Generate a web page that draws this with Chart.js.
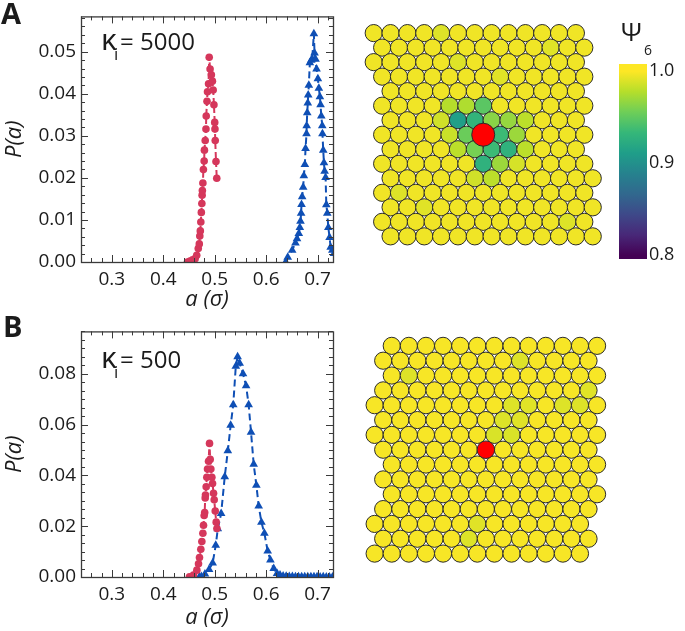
<!DOCTYPE html>
<html>
<head>
<meta charset="utf-8">
<script src="https://cdn.jsdelivr.net/npm/chart.js@4/dist/chart.umd.min.js"></script>
<style>
  html, body { margin: 0; padding: 0; background: #fff; }
  body { width: 685px; height: 631px; position: relative; overflow: hidden; }
  canvas { position: absolute; }
</style>
</head>
<body>
<canvas id="distA" width="340" height="315" style="left:0;top:0"></canvas>
<canvas id="distB" width="340" height="316" style="left:0;top:315px"></canvas>
<canvas id="latA" width="280" height="270" style="left:340px;top:0"></canvas>
<canvas id="latB" width="280" height="270" style="left:340px;top:315px"></canvas>
<canvas id="cbar" width="70" height="275" style="left:615px;top:0"></canvas>
<script>
'use strict';

/* ---------- data: P(a) curves ---------- */
// panel A, kappa_i = 5000
const aRedA = [0.447, 0.452, 0.457, 0.462, 0.465, 0.468, 0.470, 0.471, 0.472, 0.473, 0.474, 0.475,
    0.4755, 0.476, 0.477, 0.478, 0.4795, 0.480, 0.4815, 0.483, 0.4835, 0.485, 0.486, 0.488, 0.4893,
    0.491, 0.4935, 0.4955, 0.497, 0.4985, 0.500, 0.5005, 0.501, 0.5025, 0.504];
const pRedA = [0.0000, 0.0002, 0.0005, 0.0008, 0.0016, 0.0032, 0.0043, 0.0062, 0.0074, 0.0095, 0.0118, 0.0139,
    0.0159, 0.0170, 0.0188, 0.0220, 0.0240, 0.0266, 0.0289, 0.0316, 0.0347, 0.0382, 0.0405, 0.0424, 0.0487,
    0.0459, 0.0445, 0.0430, 0.0409, 0.0374, 0.0332, 0.0316, 0.0289, 0.0239, 0.0199];
const aBlueA = [0.638, 0.642, 0.6506, 0.657, 0.660, 0.6635, 0.6655, 0.6668, 0.668, 0.6688, 0.670, 0.672,
    0.6733, 0.6753, 0.6766, 0.6785, 0.6788, 0.6799, 0.681, 0.6818, 0.683, 0.685, 0.6877, 0.6896, 0.6928,
    0.6941, 0.6961, 0.698, 0.7006, 0.7025, 0.7045, 0.7058, 0.7072, 0.7091, 0.7095, 0.711, 0.7124, 0.7137,
    0.7156, 0.717, 0.7189, 0.7209, 0.7234, 0.7254, 0.7287, 0.732];
const pBlueA = [0.0000, 0.0011, 0.0028, 0.0045, 0.0055, 0.0068, 0.0082, 0.0097, 0.0116, 0.0137, 0.0155, 0.0178,
    0.0205, 0.0232, 0.0270, 0.0305, 0.0324, 0.0355, 0.0378, 0.0397, 0.0420, 0.0474, 0.0480, 0.0483, 0.0543,
    0.0497, 0.0482, 0.0459, 0.0436, 0.0413, 0.0393, 0.0374, 0.0347, 0.0324, 0.0305, 0.0266, 0.0236, 0.0216,
    0.0201, 0.0136, 0.0116, 0.0082, 0.0058, 0.0035, 0.0028, 0.0020];

// panel B, kappa_i = 500
const aRedB = [0.4509, 0.4587, 0.4653, 0.4685, 0.4704, 0.473, 0.475, 0.477, 0.4782, 0.4795, 0.4805, 0.4815,
    0.482, 0.4834, 0.4847, 0.486, 0.488, 0.4899, 0.4912, 0.4925, 0.4945, 0.4958, 0.4977, 0.499, 0.501,
    0.5029, 0.5043];
const pRedB = [0.0001, 0.0008, 0.0027, 0.0052, 0.0077, 0.0109, 0.0140, 0.0172, 0.0204, 0.0242, 0.0254, 0.0311,
    0.0323, 0.0355, 0.0393, 0.0425, 0.0456, 0.0526, 0.0463, 0.0425, 0.0393, 0.0368, 0.0330, 0.0304, 0.0260,
    0.0216, 0.0191];
const aBlueB = [0.470, 0.474, 0.481, 0.489, 0.496, 0.502, 0.506, 0.5125, 0.5195, 0.5255, 0.531, 0.536, 0.541,
    0.5445, 0.5485, 0.555, 0.561, 0.566, 0.5706, 0.5758, 0.581, 0.5855, 0.5908, 0.5966, 0.603, 0.6083,
    0.6147, 0.6213, 0.627, 0.633, 0.639, 0.645, 0.651, 0.657, 0.663, 0.669, 0.675, 0.681, 0.687, 0.693,
    0.699, 0.705, 0.711, 0.717, 0.723, 0.729];
const pBlueB = [0.0000, 0.0002, 0.0012, 0.0030, 0.0055, 0.0125, 0.0190, 0.0250, 0.0395, 0.0497, 0.0597, 0.0678, 0.0830,
    0.0867, 0.0842, 0.0800, 0.0753, 0.0678, 0.0570, 0.0444, 0.0361, 0.0280, 0.0216, 0.0172, 0.0102, 0.0067,
    0.0033, 0.0014, 0.0008, 0.0004, 0.0003, 0.0002, 0.0002, 0.0001, 0.0001, 0.0001, 0.0001, 0.0001, 0.0001, 0.0001,
    0.0001, 0.0000, 0.0001, 0.0000, 0.0000, 0.0000];

const xTicks = [0.3, 0.4, 0.5, 0.6, 0.7];
const yTicksA = [0.00, 0.01, 0.02, 0.03, 0.04, 0.05];
const yTicksB = [0.00, 0.02, 0.04, 0.06, 0.08];

/* ---------- data: particle snapshots (triangular lattice rows) ---------- */
// first column offset (in lattice spacings) and particle count of each row, top to bottom
const rowStartA = [0, 0.5, 0, 0.5, 1, 0.5, 1, 0.5, 1, 0.5, 1, 0.5, 1, 0.5, 1];
const rowCountA = [13, 13, 13, 13, 12, 13, 12, 13, 12, 13, 13, 13, 13, 13, 13];
const rowStartB = [1, 0.5, 1, 0.5, 0, 0.5, 0, 0.5, 1, 0.5, 1, 0.5, 0, 0.5, 0];
const rowCountB = [13, 13, 13, 13, 14, 13, 14, 13, 13, 13, 13, 13, 13, 13, 13];
// the inclusion (red) particle: [row, column]
const defectA = [7, 6];
const defectB = [7, 6];
// psi6 of every particle not listed below
const psiBaseA = 0.996;
const psiBaseB = 0.998;
// [row, column, psi6]
const psiA = [
    [0, 4, 0.990], [1, 10, 0.991], [2, 5, 0.990], [3, 7, 0.991], [11, 1, 0.990], [12, 2, 0.991], [13, 11, 0.990],
    [5, 4, 0.978], [5, 5, 0.976], [5, 6, 0.948],
    [6, 3, 0.986], [6, 4, 0.912], [6, 5, 0.930], [6, 6, 0.964], [6, 7, 0.968], [6, 8, 0.980],
    [7, 4, 0.984], [7, 5, 0.954], [7, 7, 0.936], [7, 8, 0.970],
    [8, 4, 0.980], [8, 5, 0.958], [8, 6, 0.936], [8, 7, 0.928], [8, 8, 0.980],
    [9, 6, 0.928], [9, 7, 0.970], [9, 8, 0.988],
    [10, 5, 0.986], [10, 6, 0.980]
];
const psiB = [
    [1, 8, 0.990], [2, 1, 0.990], [3, 12, 0.991], [4, 8, 0.990], [4, 9, 0.991], [4, 11, 0.990],
    [4, 12, 0.990], [5, 7, 0.990], [5, 8, 0.991], [6, 7, 0.989], [6, 8, 0.989], [12, 6, 0.991],
    [13, 5, 0.990]
];
const cbarTicks = [0.8, 0.9, 1.0];

/* ---------- style ---------- */
const FONT = "'Open Sans', 'DejaVu Sans', sans-serif";
const INK = '#1b1b1b';
const FRAME = '#3a3a3a';
const RED = '#d5375b';
const BLUE = '#0f4fb5';
const VIRIDIS = ['#440154', '#482878', '#3e4989', '#31688e', '#26828e',
    '#1f9e89', '#35b779', '#6ece58', '#b5de2b', '#fde725'];
const PSI_MIN = 0.8, PSI_MAX = 1.0;

Chart.defaults.font.family = FONT;
Chart.defaults.color = INK;

function hexRgb(h) {
    return [1, 3, 5].map(i => parseInt(h.substr(i, 2), 16));
}
function viridis(psi) {
    let t = (psi - PSI_MIN) / (PSI_MAX - PSI_MIN);
    t = Math.max(0, Math.min(1, t)) * (VIRIDIS.length - 1);
    const i = Math.min(Math.floor(t), VIRIDIS.length - 2), f = t - i;
    const a = hexRgb(VIRIDIS[i]), b = hexRgb(VIRIDIS[i + 1]);
    const c = a.map((v, j) => Math.round(v + (b[j] - v) * f));
    return `rgb(${c[0]},${c[1]},${c[2]})`;
}

/* inward ticks on all four sides + box frame */
const frameTicks = {
    id: 'frameTicks',
    afterDatasetsDraw(chart, args, o) {
        const { ctx, chartArea: a, scales: { x, y } } = chart;
        const near = (list, v) => list.some(m => Math.abs(m - v) < 1e-6);
        const steps = (s, step) => {
            const out = [];
            for (let i = Math.ceil(s.min / step - 1e-6); i * step <= s.max + 1e-9; i++) out.push(i * step);
            return out;
        };
        ctx.save();
        ctx.strokeStyle = FRAME;
        ctx.lineWidth = 1;
        ctx.beginPath();
        const xMaj = x.ticks.map(t => t.value);
        steps(x, o.xMinor).forEach(v => {
            const len = near(xMaj, v) ? 7 : 4;
            const px = Math.round(x.getPixelForValue(v)) + 0.5;
            ctx.moveTo(px, a.bottom); ctx.lineTo(px, a.bottom - len);
            ctx.moveTo(px, a.top); ctx.lineTo(px, a.top + len);
        });
        const yMaj = y.ticks.map(t => t.value);
        steps(y, o.yMinor).forEach(v => {
            const len = near(yMaj, v) ? 7 : 4;
            const py = Math.round(y.getPixelForValue(v)) + 0.5;
            ctx.moveTo(a.left, py); ctx.lineTo(a.left + len, py);
            ctx.moveTo(a.right, py); ctx.lineTo(a.right - len, py);
        });
        ctx.stroke();
        ctx.lineWidth = 1.3;
        ctx.strokeRect(a.left + 0.5, a.top + 0.5, a.right - a.left, a.bottom - a.top);
        ctx.restore();
    }
};

/* panel letter and kappa_i annotation */
const panelText = {
    id: 'panelText',
    afterDraw(chart, args, o) {
        const ctx = chart.ctx;
        ctx.save();
        ctx.fillStyle = INK;
        ctx.textAlign = 'left';
        ctx.textBaseline = 'alphabetic';
        ctx.font = `bold 29px ${FONT}`;
        ctx.fillText(o.letter, o.letterX, o.letterY);
        ctx.font = `30px ${FONT}`;
        ctx.fillText('κ', 101, o.kY);
        ctx.font = `17px ${FONT}`;
        ctx.fillText('i', 114, o.kY + 10);
        ctx.font = `24px ${FONT}`;
        ctx.fillText('= ' + o.kappa, 120, o.kY);
        ctx.restore();
    }
};

function series(xs, ys) {
    return xs.map((x, i) => ({ x, y: ys[i] }));
}

function distChart(id, cfg) {
    return new Chart(document.getElementById(id), {
        type: 'scatter',
        data: {
            datasets: [{
                data: series(cfg.aRed, cfg.pRed),
                showLine: true, borderColor: RED, backgroundColor: RED,
                borderWidth: 2, borderDash: [6, 3],
                pointStyle: 'circle', pointRadius: 3.8, pointBorderWidth: 0
            }, {
                data: series(cfg.aBlue, cfg.pBlue),
                showLine: true, borderColor: BLUE, backgroundColor: BLUE,
                borderWidth: 2, borderDash: [7, 4],
                pointStyle: 'triangle', pointRadius: 5, pointBorderWidth: 0
            }]
        },
        options: {
            responsive: false, animation: false, events: [], devicePixelRatio: 1,
            layout: { padding: { top: cfg.padTop, right: 7, left: 0, bottom: 0 } },
            plugins: {
                legend: { display: false }, tooltip: { enabled: false },
                frameTicks: { xMinor: 0.02, yMinor: cfg.yMinor },
                panelText: cfg.text
            },
            scales: {
                x: {
                    type: 'linear', min: 0.24, max: 0.73,
                    afterBuildTicks: s => { s.ticks = xTicks.map(v => ({ value: v })); },
                    afterFit: s => { s.height = cfg.xAxisH; },
                    grid: { display: false, drawTicks: false }, border: { display: false },
                    ticks: { font: { size: 19 }, color: INK, padding: 6, maxRotation: 0, autoSkip: false,
                        callback: v => v.toFixed(1) },
                    title: { display: true, text: 'a (σ)', color: INK,
                        font: { size: 22, style: 'italic' }, padding: { top: 0, bottom: cfg.xTitlePad } }
                },
                y: {
                    type: 'linear', min: 0, max: cfg.yMax,
                    afterBuildTicks: s => { s.ticks = cfg.yTicks.map(v => ({ value: v })); },
                    afterFit: s => { s.width = 81; },
                    grid: { display: false, drawTicks: false }, border: { display: false },
                    ticks: { font: { size: 19 }, color: INK, padding: 5, autoSkip: false,
                        callback: v => v.toFixed(2) },
                    title: { display: true, text: 'P(a)', color: INK,
                        font: { size: 22, style: 'italic' }, padding: { top: 2, bottom: 0 } }
                }
            }
        },
        plugins: [frameTicks, panelText]
    });
}

distChart('distA', {
    aRed: aRedA, pRed: pRedA, aBlue: aBlueA, pBlue: pBlueA,
    yMax: 0.0584, yTicks: yTicksA, yMinor: 0.002,
    padTop: 9, xAxisH: 53, xTitlePad: 2,
    text: { letter: 'A', letterX: 1, letterY: 24, kY: 50, kappa: '5000' }
});
distChart('distB', {
    aRed: aRedB, pRed: pRedB, aBlue: aBlueB, pBlue: pBlueB,
    yMax: 0.0967, yTicks: yTicksB, yMinor: 0.02 / 6,
    padTop: 7, xAxisH: 54, xTitlePad: 0,
    text: { letter: 'B', letterX: 3, letterY: 22, kY: 53, kappa: '500' }
});

/* ---------- particle snapshots ---------- */
function latticeChart(id, cfg) {
    const lookup = (r, k) => {
        const hit = cfg.psi.find(p => p[0] === r && p[1] === k);
        return hit ? hit[2] : cfg.psiBase;
    };
    const pts = [];
    cfg.rowStart.forEach((s, r) => {
        for (let k = 0; k < cfg.rowCount[r]; k++) {
            if (r === cfg.defect[0] && k === cfg.defect[1]) continue;
            pts.push({ x: s + k, y: r, psi: lookup(r, k) });
        }
    });
    const d = cfg.defect;
    return new Chart(document.getElementById(id), {
        type: 'scatter',
        data: {
            datasets: [{
                data: [{ x: cfg.rowStart[d[0]] + d[1], y: d[0] }],
                pointRadius: cfg.defectR, pointBackgroundColor: '#ff0000',
                pointBorderColor: '#2b2b2b', pointBorderWidth: 1
            }, {
                data: pts,
                pointRadius: 8.6,
                pointBackgroundColor: c => (c.raw ? viridis(c.raw.psi) : viridis(cfg.psiBase)),
                pointBorderColor: '#2b2b2b', pointBorderWidth: 1
            }]
        },
        options: {
            responsive: false, animation: false, events: [], devicePixelRatio: 1,
            layout: { padding: 0 },
            plugins: { legend: { display: false }, tooltip: { enabled: false } },
            scales: {
                x: { type: 'linear', display: false, min: cfg.xMin, max: cfg.xMax },
                y: { type: 'linear', display: false, reverse: true, min: cfg.yMin, max: cfg.yMax }
            }
        }
    });
}

latticeChart('latA', {
    rowStart: rowStartA, rowCount: rowCountA, defect: defectA, defectR: 11.5,
    psi: psiA, psiBase: psiBaseA,
    xMin: -1.259, xMax: 13.876, yMin: -1.419, yMax: 15.456
});
latticeChart('latB', {
    rowStart: rowStartB, rowCount: rowCountB, defect: defectB, defectR: 8.8,
    psi: psiB, psiBase: psiBaseB,
    xMin: -1.451, xMax: 13.766, yMin: -1.419, yMax: 15.456
});

/* ---------- colour bar ---------- */
const psiLabel = {
    id: 'psiLabel',
    afterDraw(chart) {
        const ctx = chart.ctx;
        ctx.save();
        ctx.fillStyle = INK;
        ctx.textAlign = 'left';
        ctx.textBaseline = 'alphabetic';
        ctx.font = `26px ${FONT}`;
        ctx.fillText('Ψ', 6, 41);
        ctx.font = `14px ${FONT}`;
        ctx.fillText('6', 29, 55);
        ctx.restore();
    }
};

new Chart(document.getElementById('cbar'), {
    type: 'bar',
    data: {
        labels: [''],
        datasets: [{
            data: [[0.796, 1.008]],
            barPercentage: 1, categoryPercentage: 1, borderWidth: 0,
            backgroundColor: c => {
                const ch = c.chart;
                if (!ch.chartArea) return VIRIDIS[VIRIDIS.length - 1];
                const y = ch.scales.y;
                const g = ch.ctx.createLinearGradient(0, y.getPixelForValue(PSI_MIN), 0, y.getPixelForValue(PSI_MAX));
                VIRIDIS.forEach((col, i) => g.addColorStop(i / (VIRIDIS.length - 1), col));
                return g;
            }
        }]
    },
    options: {
        responsive: false, animation: false, events: [], devicePixelRatio: 1,
        layout: { padding: { top: 64, bottom: 16, left: 4, right: 0 } },
        plugins: { legend: { display: false }, tooltip: { enabled: false } },
        scales: {
            x: { display: false },
            y: {
                position: 'right', min: 0.796, max: 1.008,
                afterBuildTicks: s => { s.ticks = cbarTicks.map(v => ({ value: v })); },
                afterFit: s => { s.width = 38; },
                grid: { display: false, drawTicks: false }, border: { display: false },
                ticks: { font: { size: 18 }, color: INK, padding: 2, autoSkip: false,
                    callback: v => v.toFixed(1) }
            }
        }
    },
    plugins: [psiLabel]
});
</script>
</body>
</html>
